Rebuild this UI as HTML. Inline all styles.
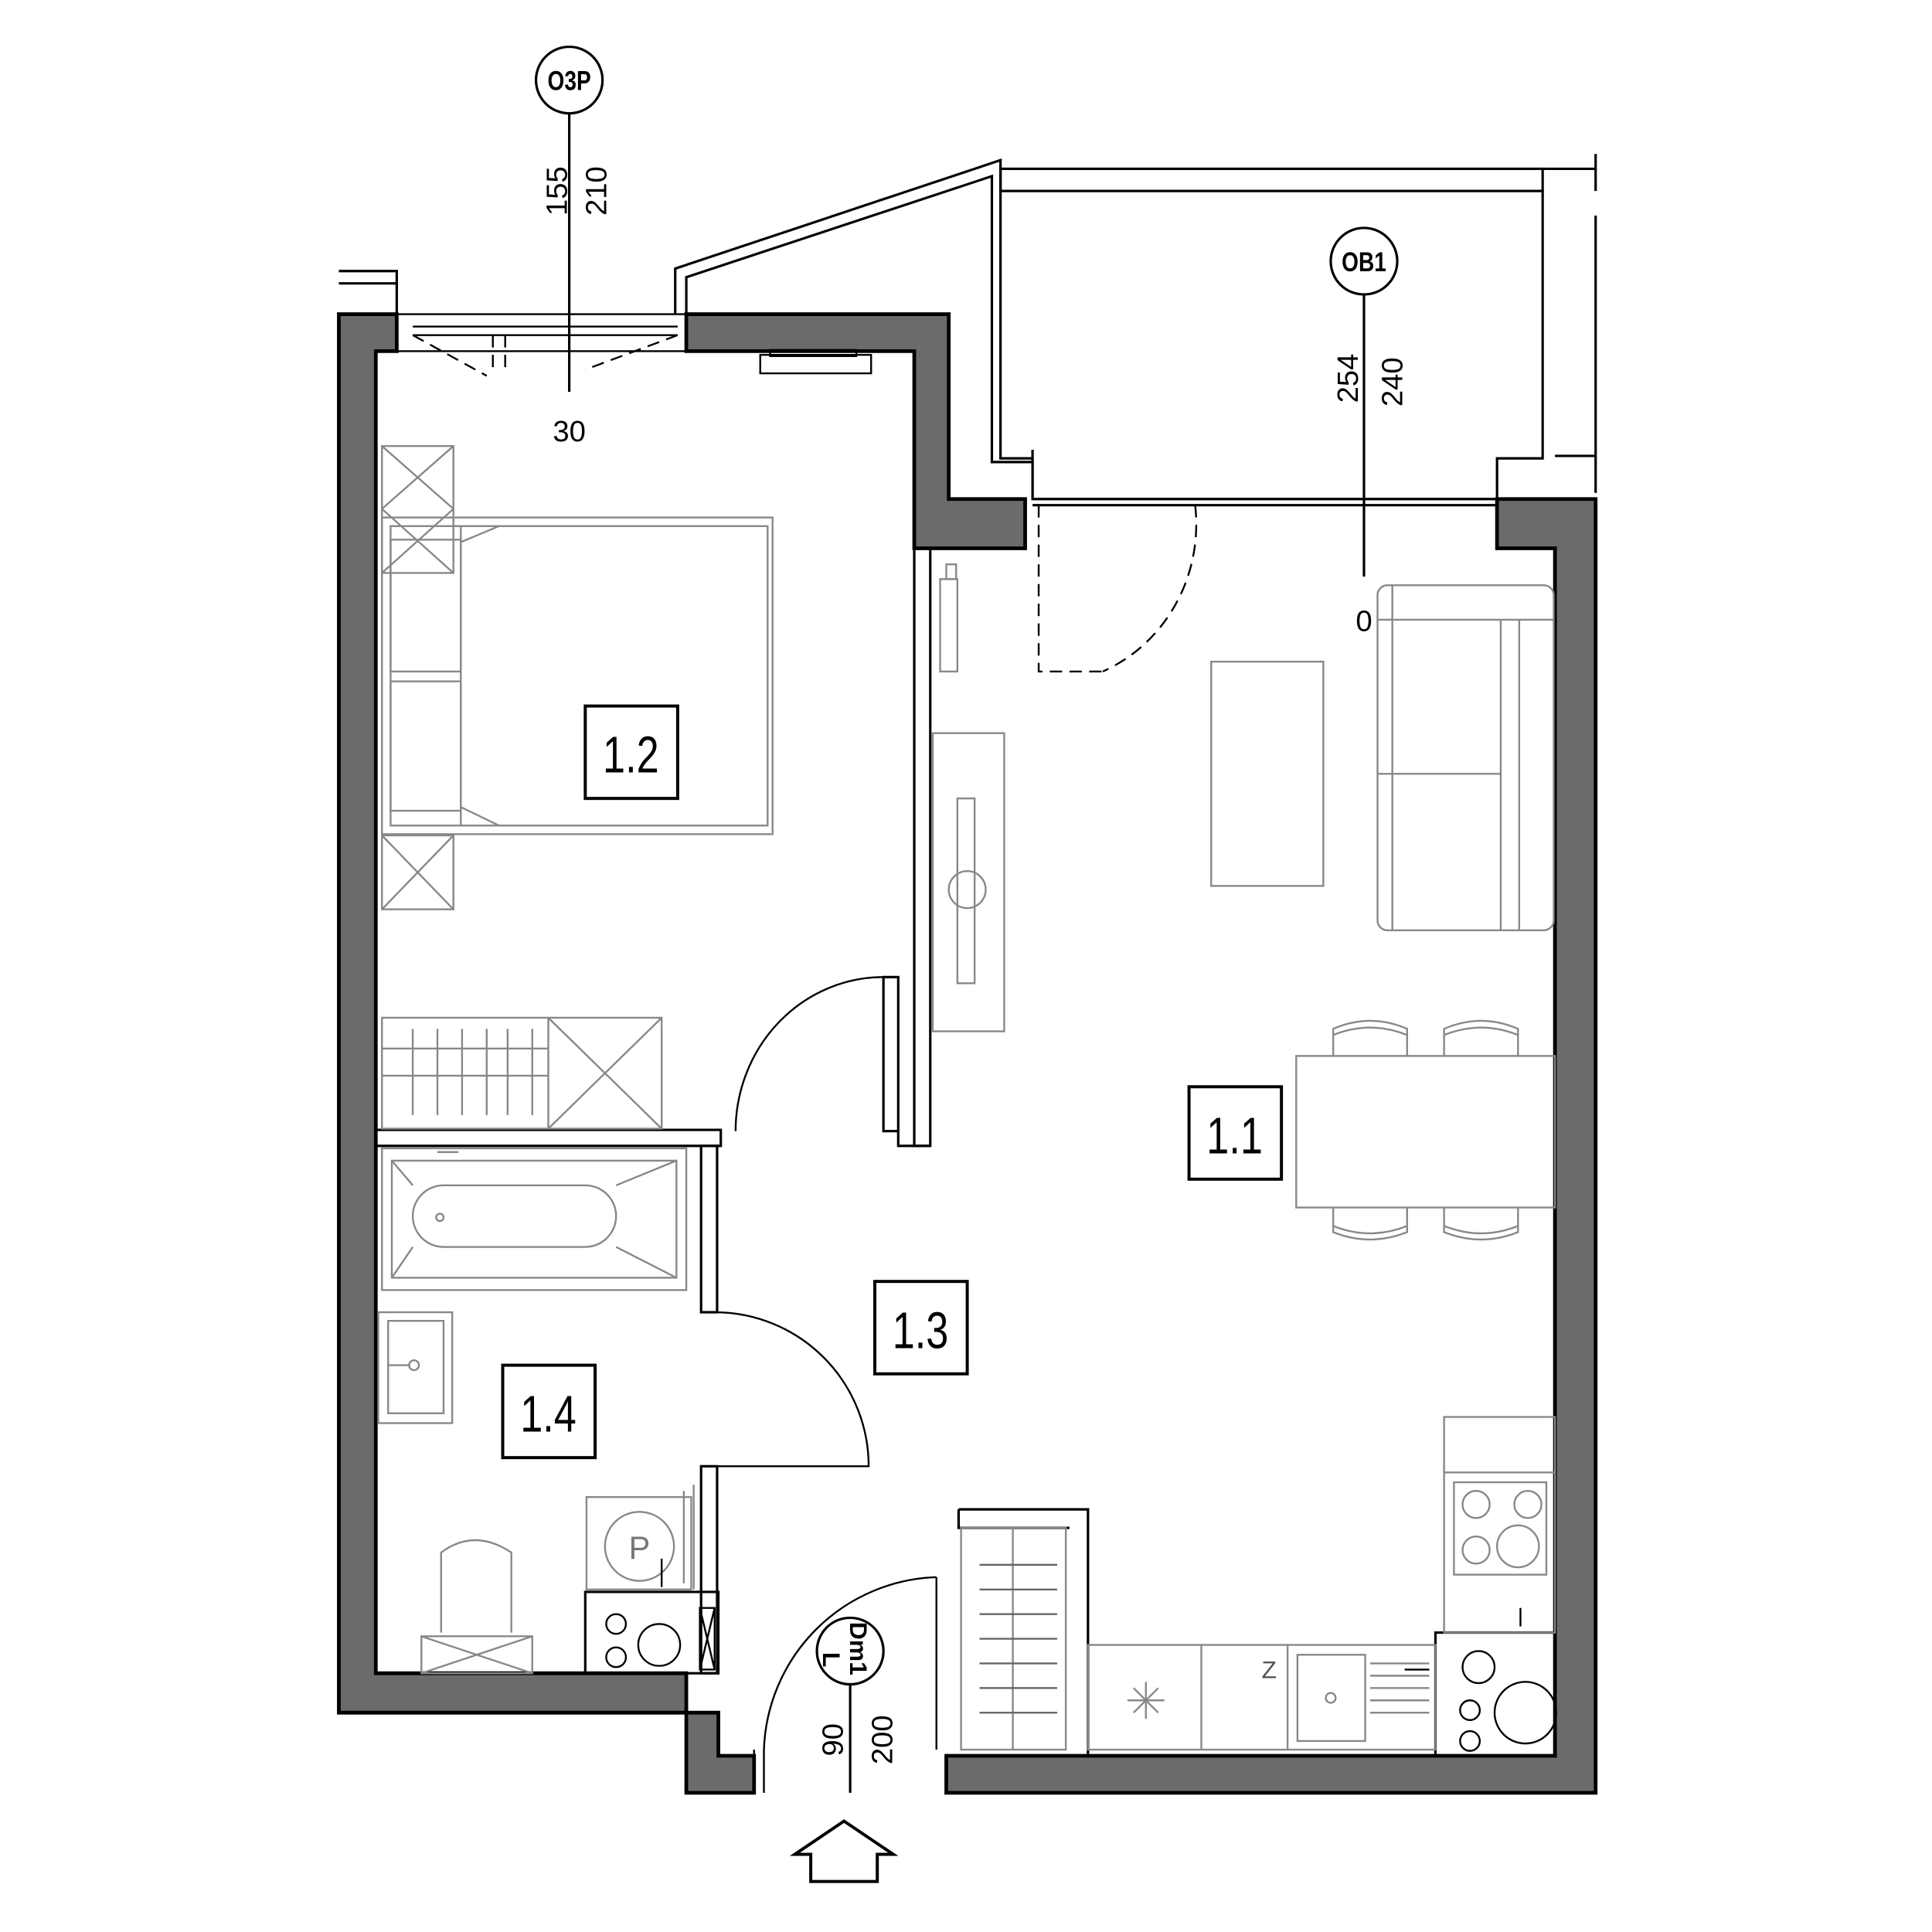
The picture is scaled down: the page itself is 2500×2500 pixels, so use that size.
<!DOCTYPE html>
<html><head><meta charset="utf-8"><style>html,body{margin:0;padding:0;background:#fff}svg{display:block}</style></head>
<body>
<svg width="2500" height="2500" viewBox="0 0 1568 1568" xmlns="http://www.w3.org/2000/svg" font-family="Liberation Sans, sans-serif">
<rect width="1568" height="1568" fill="#fff"/>
<g fill="#6b6b6b" stroke="#000" stroke-width="3">
<path d="M275,255 H322 V285 H305 V1358 H557 V1390 H275 Z"/>
<path d="M557,255 H770 V405 H832 V445 H742 V285 H557 Z"/>
<path d="M1215,405 H1295 V1455 H768 V1425 H1262 V445 H1215 Z"/>
<path d="M557,1390 H583 V1425 H612 V1455 H557 Z"/>
</g>
<g fill="none" stroke="#000" stroke-width="2">
<rect x="742" y="445" width="13" height="485"/>
<rect x="717" y="793" width="12" height="125"/>
<path d="M729,918 V930 H755"/>
<path d="M305,917 H585 V930 H305"/>
<rect x="569" y="930" width="13" height="135"/>
<rect x="569" y="1190" width="13" height="168"/>
<path d="M475,1292 H583 V1358 H475 Z"/>
<path d="M868,1225 H883 V1425 M778,1225 H883 M778,1225 V1240 H868"/>
<rect x="1165" y="1325" width="97" height="100"/>
<path d="M322,255 V220 H275 M322,230 H275"/>
<path d="M557,255 V225 L805,143 V375 H838 V405 M548,255 V218 L812,130 V155"/>
<rect x="812" y="137" width="440" height="18"/>
<path d="M812,155 V372 H838 M1252,155 V372 H1215 V405 M1252,137 H1295 M1295,125 V155 M1295,175 V400 M1262,370 H1295"/>
<path d="M838,365 V405 H1215 M838,410 H1215"/>
<rect x="322" y="255" width="235" height="30" stroke-width="1.5"/>
<path d="M335,265 H550 M335,272 H550" stroke-width="1.5"/>
</g>
<g fill="none" stroke="#000" stroke-width="1.5" stroke-dasharray="10,6">
<path d="M335,272 L395,305 M550,272 L475,300 M400,272 V300 M410,272 V300"/>
<path d="M843,410 V545 H895"/>
<path d="M970,410 A125,130 0 0 1 895,545"/>
</g>
<g fill="none" stroke="#000" stroke-width="1.5">
<path d="M717,793 A120,125 0 0 0 597,918"/>
<path d="M582,1065 A125,125 0 0 1 705,1190 H582"/>
<path d="M612,1420 V1455 M620,1420 V1455 M760,1280 V1420 M760,1280 A145,145 0 0 0 620,1420"/>
</g>
<g fill="none" stroke="#888" stroke-width="1.5">
<rect x="310" y="362" width="58" height="103"/><path d="M310,362 L368,413 M368,362 L310,413 M310,413 L368,465 M368,413 L310,465"/>
<rect x="310" y="678" width="58" height="60"/><path d="M310,678 L368,738 M368,678 L310,738"/>
<rect x="310" y="420" width="317" height="257"/>
<rect x="317" y="427" width="306" height="243"/>
<rect x="317" y="438" width="57" height="107"/><rect x="317" y="553" width="57" height="105"/>
<path d="M374,427 V670 M374,440 L405,427 M374,655 L405,670"/>
<rect x="310" y="826" width="227" height="90"/><path d="M310,851 H445 M310,873 H445 M445,826 V916 M445,826 L537,916 M537,826 L445,916"/>
<path d="M335,835 V905 M355,835 V905 M375,835 V905 M395,835 V905 M412,835 V905 M432,835 V905"/>
<rect x="310" y="932" width="247" height="115"/>
<rect x="318" y="942" width="231" height="95"/>
<rect x="335" y="962" width="165" height="50" rx="25"/>
<path d="M500,962 L549,942 M500,1012 L549,1037 M318,942 L335,962 M318,1037 L335,1012"/>
<circle cx="357" cy="988" r="3"/><path d="M355,935 H372"/>
<rect x="307" y="1065" width="60" height="90"/><rect x="315" y="1072" width="45" height="75"/><circle cx="336" cy="1108" r="4"/><path d="M315,1108 H333"/>
<path d="M358,1325 V1260 Q385,1240 415,1260 V1325 M342,1328 H432 V1358 H342 Z M342,1328 L432,1358 M432,1328 L342,1358"/>
<rect x="476" y="1215" width="85" height="75"/><circle cx="519" cy="1255" r="28"/>
<path d="M555,1210 V1285 M563,1205 V1290"/>
<rect x="757" y="595" width="58" height="242"/><rect x="777" y="648" width="14" height="150"/><circle cx="785" cy="722" r="15"/>
<rect x="763" y="470" width="14" height="75"/><rect x="768" y="458" width="8" height="12"/>
<rect x="983" y="537" width="91" height="182"/>
<rect x="1118" y="475" width="143" height="280" rx="8"/><path d="M1118,503 H1261 M1218,503 V755 M1233,503 V755 M1118,628 H1218 M1130,475 V755"/>
<rect x="1052" y="857" width="210" height="123"/>
<path d="M1082,857 V835 Q1112,822 1142,835 V857 M1172,857 V835 Q1202,822 1232,835 V857 M1082,980 V1000 Q1112,1012 1142,1000 V980 M1172,980 V1000 Q1202,1012 1232,1000 V980 M1082,840 Q1112,828 1142,840 M1172,840 Q1202,828 1232,840 M1082,995 Q1112,1007 1142,995 M1172,995 Q1202,1007 1232,995"/>
<rect x="1172" y="1150" width="90" height="175"/><path d="M1172,1195 H1262"/>
<rect x="1180" y="1203" width="75" height="75"/><circle cx="1198" cy="1221" r="11"/><circle cx="1240" cy="1221" r="11"/><circle cx="1198" cy="1258" r="11"/><circle cx="1232" cy="1255" r="17"/>
<rect x="883" y="1335" width="282" height="85"/><path d="M975,1335 V1420 M1045,1335 V1420"/>
<rect x="1053" y="1343" width="55" height="70"/><circle cx="1080" cy="1378" r="4"/>
<path d="M1112,1350 H1160 M1112,1360 H1160 M1112,1370 H1160 M1112,1380 H1160 M1112,1390 H1160"/>
<path d="M915,1380 H945 M930,1365 V1395 M920,1370 L940,1390 M940,1370 L920,1390"/>
<rect x="780" y="1240" width="85" height="180"/><path d="M822,1240 V1420"/>
<g stroke="#666"><path d="M795,1270 H858 M795,1290 H858 M795,1310 H858 M795,1330 H858 M795,1350 H858 M795,1370 H858 M795,1390 H858"/></g>
</g>
<g stroke="#000" fill="none" stroke-width="1.5">
<rect x="617" y="288" width="90" height="15"/><rect x="625" y="284" width="70" height="5"/>
<circle cx="500" cy="1318" r="8"/><circle cx="500" cy="1345" r="8"/><circle cx="535" cy="1335" r="17"/>
<rect x="568" y="1305" width="12" height="50"/><path d="M568,1305 L580,1355 M580,1305 L568,1355"/>
<circle cx="1200" cy="1353" r="13"/><circle cx="1238" cy="1390" r="25"/><circle cx="1193" cy="1388" r="8"/><circle cx="1193" cy="1413" r="8"/>
<path d="M1234,1305 V1320"/><path d="M537,1265 V1288"/><path d="M1140,1355 H1160"/>
</g>
<g stroke="#000" stroke-width="2">
<line x1="462" y1="92" x2="462" y2="318"/>
<line x1="1107" y1="237" x2="1107" y2="468"/>
<line x1="690" y1="1367" x2="690" y2="1455"/>
</g>
<g fill="#fff" stroke="#000" stroke-width="2">
<circle cx="462" cy="65" r="27"/><circle cx="1107" cy="212" r="27"/>
<circle cx="690" cy="1340" r="27"/>
</g>
<g font-size="24" text-anchor="middle" fill="#000">
<text transform="translate(462,73) scale(0.8,1)" font-size="22" font-weight="bold">O3P</text>
<text transform="translate(1107,220) scale(0.8,1)" font-size="22" font-weight="bold">OB1</text>
<text x="462" y="358">30</text>
<text x="1107" y="512">0</text>
<text transform="translate(460,155) rotate(-90)">155</text>
<text transform="translate(492,155) rotate(-90)">210</text>
<text transform="translate(1102,307) rotate(-90)">254</text>
<text transform="translate(1138,310) rotate(-90)">240</text>
<text transform="translate(684,1412) rotate(-90)">90</text>
<text transform="translate(724,1412) rotate(-90)">200</text>
<text transform="translate(690,1338) rotate(90)" font-size="20" font-weight="bold">Dm1</text>
<text transform="translate(668,1347) rotate(90)" font-size="20" font-weight="bold">L</text>
<text x="519" y="1265" font-size="26" fill="#777">P</text>
<text x="1030" y="1362" font-size="20" fill="#555">Z</text>
</g>
<g fill="#fff" stroke="#000" stroke-width="2.5">
<rect x="475" y="573" width="75" height="75"/><rect x="965" y="882" width="75" height="75"/>
<rect x="710" y="1040" width="75" height="75"/><rect x="408" y="1108" width="75" height="75"/>
</g>
<g font-size="42" text-anchor="middle" fill="#000">
<text transform="translate(512,627) scale(0.78,1)">1.2</text>
<text transform="translate(1002,936) scale(0.78,1)">1.1</text>
<text transform="translate(747,1094) scale(0.78,1)">1.3</text>
<text transform="translate(445,1162) scale(0.78,1)">1.4</text>
</g>
<path d="M645,1505 L685,1478 L725,1505 H712 V1527 H658 V1505 Z" fill="none" stroke="#000" stroke-width="2.5"/>
</svg>
</body></html>
